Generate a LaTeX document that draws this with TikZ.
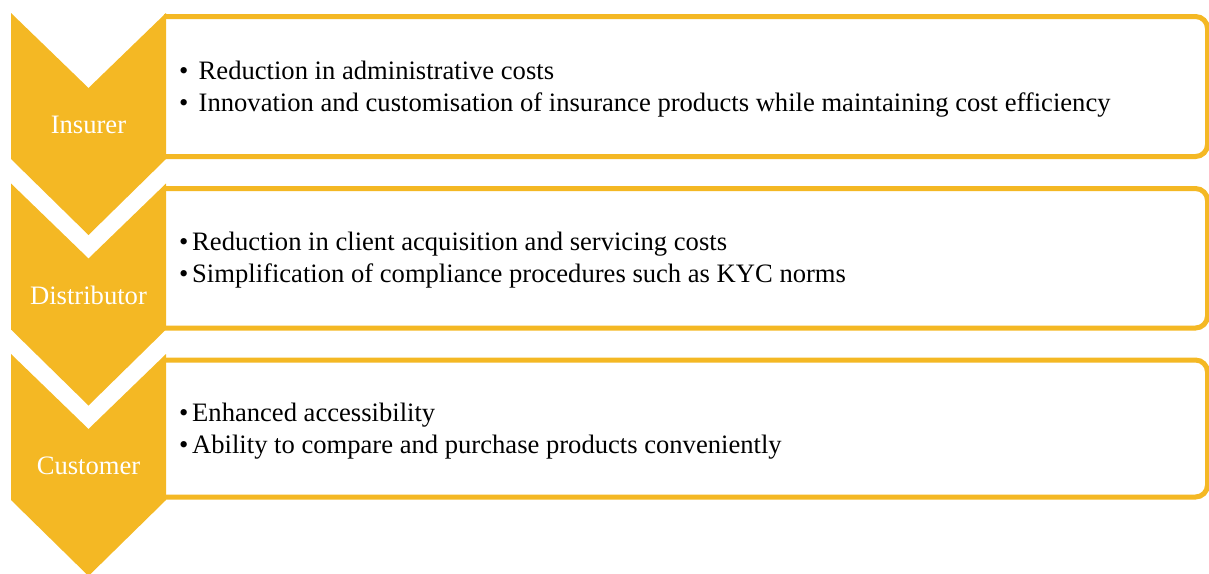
\documentclass[tikz,border=0pt]{standalone}
\usepackage{fontspec}
\setmainfont{Liberation Serif}
\definecolor{gold}{HTML}{F4B824}
\begin{document}
\begin{tikzpicture}[x=1pt,y=-1pt,
  chev/.style={fill=gold},
  panel/.style={draw=gold,line width=5pt,fill=white,rounded corners=12pt},
  lbl/.style={text=white,font=\fontsize{26.6}{32}\selectfont,anchor=base,inner sep=0pt},
  itm/.style={text=black,font=\fontsize{26.6}{32}\selectfont,anchor=base west,inner sep=0pt},
  bul/.style={text=black,font=\fontsize{26.6}{32}\selectfont,anchor=base west,inner sep=0pt}]
\useasboundingbox (0,0) rectangle (1209,573);
% panels
\foreach \t/\b in {16.5/156.5, 188.5/328, 360/497}{
  \draw[panel] (164,\t) -- (1207.5,\t) -- (1207.5,\b) -- (164,\b);
}
% chevrons
\foreach \y in {13,183.5,354}{
  \fill[chev] (11,\y) -- (88.5,\y+75) -- (166,\y) -- (166,\y+146) -- (88.5,\y+222) -- (11,\y+146) -- cycle;
}
\node[lbl] (l1) at (88.5,133) {Insurer};
\node[lbl] (l2) at (88.5,304) {Distributor};
\node[lbl] (l3) at (88.5,474) {Customer};
% box 1
\node[bul] (b11) at (179,79) {\textbullet};
\node[itm] (t11) at (198.5,79) {Reduction in administrative costs};
\node[bul] (b12) at (179,111) {\textbullet};
\node[itm] (t12) at (198.5,111) {Innovation and customisation of insurance products while maintaining cost efficiency};
% box 2
\node[bul] (b21) at (179,250) {\textbullet};
\node[itm] (t21) at (192,250) {Reduction in client acquisition and servicing costs};
\node[bul] (b22) at (179,282) {\textbullet};
\node[itm] (t22) at (192,282) {Simplification of compliance procedures such as KYC norms};
% box 3
\node[bul] (b31) at (179,421) {\textbullet};
\node[itm] (t31) at (192,421) {Enhanced accessibility};
\node[bul] (b32) at (179,453) {\textbullet};
\node[itm] (t32) at (192,453) {Ability to compare and purchase products conveniently};
\end{tikzpicture}
\end{document}
